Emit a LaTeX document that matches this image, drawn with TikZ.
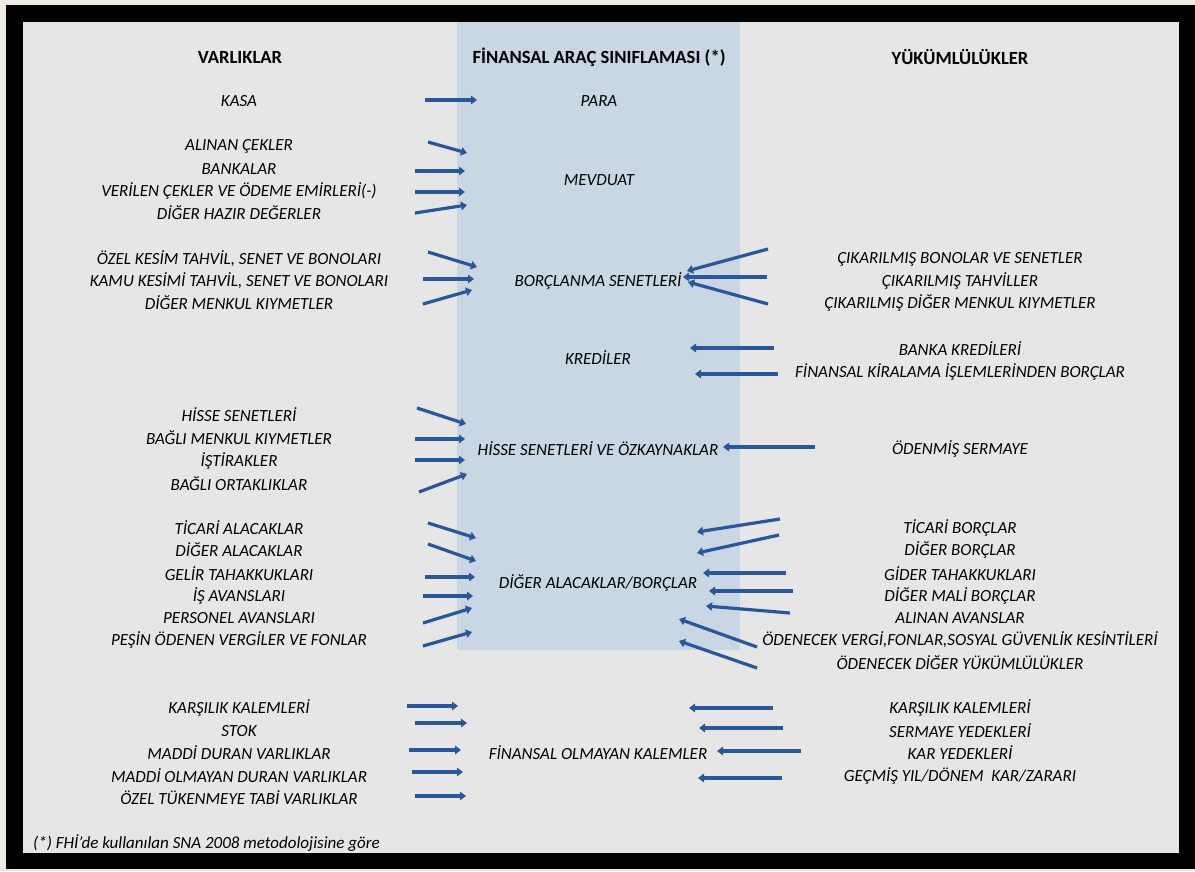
\documentclass[tikz,border=0pt]{standalone}
\usepackage{fontspec}
\setmainfont{Carlito}
\usetikzlibrary{arrows.meta}
\definecolor{frame}{RGB}{238,236,226}
\definecolor{panel}{RGB}{230,230,230}
\definecolor{band}{RGB}{201,214,227}
\definecolor{arrblue}{RGB}{42,86,154}
\newcommand{\txtsize}{\fontsize{17}{20}\selectfont}
\newcommand{\headsize}{\fontsize{18.6}{22}\selectfont}
\tikzset{
  item/.style={font=\txtsize\itshape, inner sep=0pt},
  head/.style={font=\headsize\bfseries, inner sep=0pt},
  arr/.style={draw=arrblue, line width=3.2pt, -{Triangle[length=6pt,width=8.5pt]}}
}
\begin{document}
\begin{tikzpicture}[x=1pt, y=-1pt]
				% 1. Çerçeve ve zemin
				\fill[frame] (0,0) rectangle (1195,871);
				\fill[black] (6,5) rectangle (1195,869);
				\fill[panel] (23,22) rectangle (1179,853);
				\fill[band] (457,22) rectangle (740,650);
				
				% 2. Başlıklar
				\node[head] (varlik) at (240,57) {VARLIKLAR};
				\node[head] (sinif) at (599,57) {FİNANSAL ARAÇ SINIFLAMASI (*)};
				\node[head] (yukum) at (960,57) {YÜKÜMLÜLÜKLER};
				
				% 3. Varlıklar
				\node[item] (kasa) at (239,101) {KASA};
				\node[item] (alcek) at (239,146) {ALINAN ÇEKLER};
				\node[item] (banka) at (239,169) {BANKALAR};
				\node[item] (vercek) at (239,191) {VERİLEN ÇEKLER VE ÖDEME EMİRLERİ(-)};
				\node[item] (hazir) at (239,213) {DİĞER HAZIR DEĞERLER};
				\node[item] (ozel) at (239,259) {ÖZEL KESİM TAHVİL, SENET VE BONOLARI};
				\node[item] (kamu) at (239,281) {KAMU KESİMİ TAHVİL, SENET VE BONOLARI};
				\node[item] (menkul) at (239,303) {DİĞER MENKUL KIYMETLER};
				\node[item] (hisse) at (239,415) {HİSSE SENETLERİ};
				\node[item] (bagmen) at (239,438) {BAĞLI MENKUL KIYMETLER};
				\node[item] (istir) at (239,461) {İŞTİRAKLER};
				\node[item] (bagort) at (239,484) {BAĞLI ORTAKLIKLAR};
				\node[item] (tical) at (239,528) {TİCARİ ALACAKLAR};
				\node[item] (digal) at (239,550) {DİĞER ALACAKLAR};
				\node[item] (gelir) at (239,574) {GELİR TAHAKKUKLARI};
				\node[item] (isav) at (239,596) {İŞ AVANSLARI};
				\node[item] (persav) at (239,618) {PERSONEL AVANSLARI};
				\node[item] (pesin) at (239,640) {PEŞİN ÖDENEN VERGİLER VE FONLAR};
				\node[item] (karsa) at (239,708) {KARŞILIK KALEMLERİ};
				\node[item] (stok) at (239,731) {STOK};
				\node[item] (maddi) at (239,753) {MADDİ DURAN VARLIKLAR};
				\node[item] (maddio) at (239,776) {MADDİ OLMAYAN DURAN VARLIKLAR};
				\node[item] (tuken) at (239,798) {ÖZEL TÜKENMEYE TABİ VARLIKLAR};
				
				% 4. Sınıflama
				\node[item] (para) at (599,101) {PARA};
				\node[item] (mevduat) at (599,180) {MEVDUAT};
				\node[item] (borcsen) at (598,281) {BORÇLANMA SENETLERİ};
				\node[item] (kredi) at (598,358) {KREDİLER};
				\node[item] (hisseoz) at (598,449) {HİSSE SENETLERİ VE ÖZKAYNAKLAR};
				\node[item] (digab) at (598,583) {DİĞER ALACAKLAR/BORÇLAR};
				\node[item] (finol) at (598,753) {FİNANSAL OLMAYAN KALEMLER};
				
				% 5. Yükümlülükler
				\node[item] (cbono) at (960,259) {ÇIKARILMIŞ BONOLAR VE SENETLER};
				\node[item] (ctahvil) at (960,281) {ÇIKARILMIŞ TAHVİLLER};
				\node[item] (cmenkul) at (960,303) {ÇIKARILMIŞ DİĞER MENKUL KIYMETLER};
				\node[item] (bkredi) at (960,349) {BANKA KREDİLERİ};
				\node[item] (kira) at (960,372) {FİNANSAL KİRALAMA İŞLEMLERİNDEN BORÇLAR};
				\node[item] (sermaye) at (960,449) {ÖDENMİŞ SERMAYE};
				\node[item] (ticbor) at (960,528) {TİCARİ BORÇLAR};
				\node[item] (digbor) at (960,550) {DİĞER BORÇLAR};
				\node[item] (gider) at (960,574) {GİDER TAHAKKUKLARI};
				\node[item] (malibor) at (960,596) {DİĞER MALİ BORÇLAR};
				\node[item] (alav) at (960,618) {ALINAN AVANSLAR};
				\node[item] (vergi) at (960,640) {ÖDENECEK VERGİ,FONLAR,SOSYAL GÜVENLİK KESİNTİLERİ};
				\node[item] (digyuk) at (960,663) {ÖDENECEK DİĞER YÜKÜMLÜLÜKLER};
				\node[item] (karsy) at (960,708) {KARŞILIK KALEMLERİ};
				\node[item] (syed) at (960,731) {SERMAYE YEDEKLERİ};
				\node[item] (kyed) at (960,753) {KAR YEDEKLERİ};
				\node[item] (gecmis) at (960,776) {GEÇMİŞ YIL/DÖNEM\ \ KAR/ZARARI};
				
				% 6. Dipnot
				\node[item, anchor=west] (dipnot) at (33,843) {(*) FHİ'de kullanılan SNA 2008 metodolojisine göre};
				
				% 7. Oklar
				\foreach \xa/\ya/\xb/\yb in {425/100/477/100, 428/142/467/153, 415/171/465/171, 415/192/465/192, 415/213/467/205,
					428/252/477/267, 423/279/474/279, 423/304/472/290,
					417/408/466/424, 415/439/465/439, 415/460/465/460, 419/492/467/474,
					428/523/476/538, 428/544/476/561, 425/577/475/577, 423/596/473/596, 423/623/472/608, 423/646/472/632,
					407/706/458/706, 415/723/467/723, 409/750/461/750, 412/772/463/772, 415/796/466/796,
					768/249/687/271, 767/277/683/277, 768/304/688/282,
					774/348/690/348, 778/374/695/374, 815/447/723/447,
					780/519/697/532, 779/535/697/553, 786/573/703/573, 793/591/709/591, 790/613/706/606, 757/647/679/619, 757/668/679/641,
					773/708/689/708, 783/728/699/728, 801/751/717/751, 782/778/698/778}
					{ \draw[arr] (\xa,\ya) -- (\xb,\yb); }
\end{tikzpicture}
\end{document}
